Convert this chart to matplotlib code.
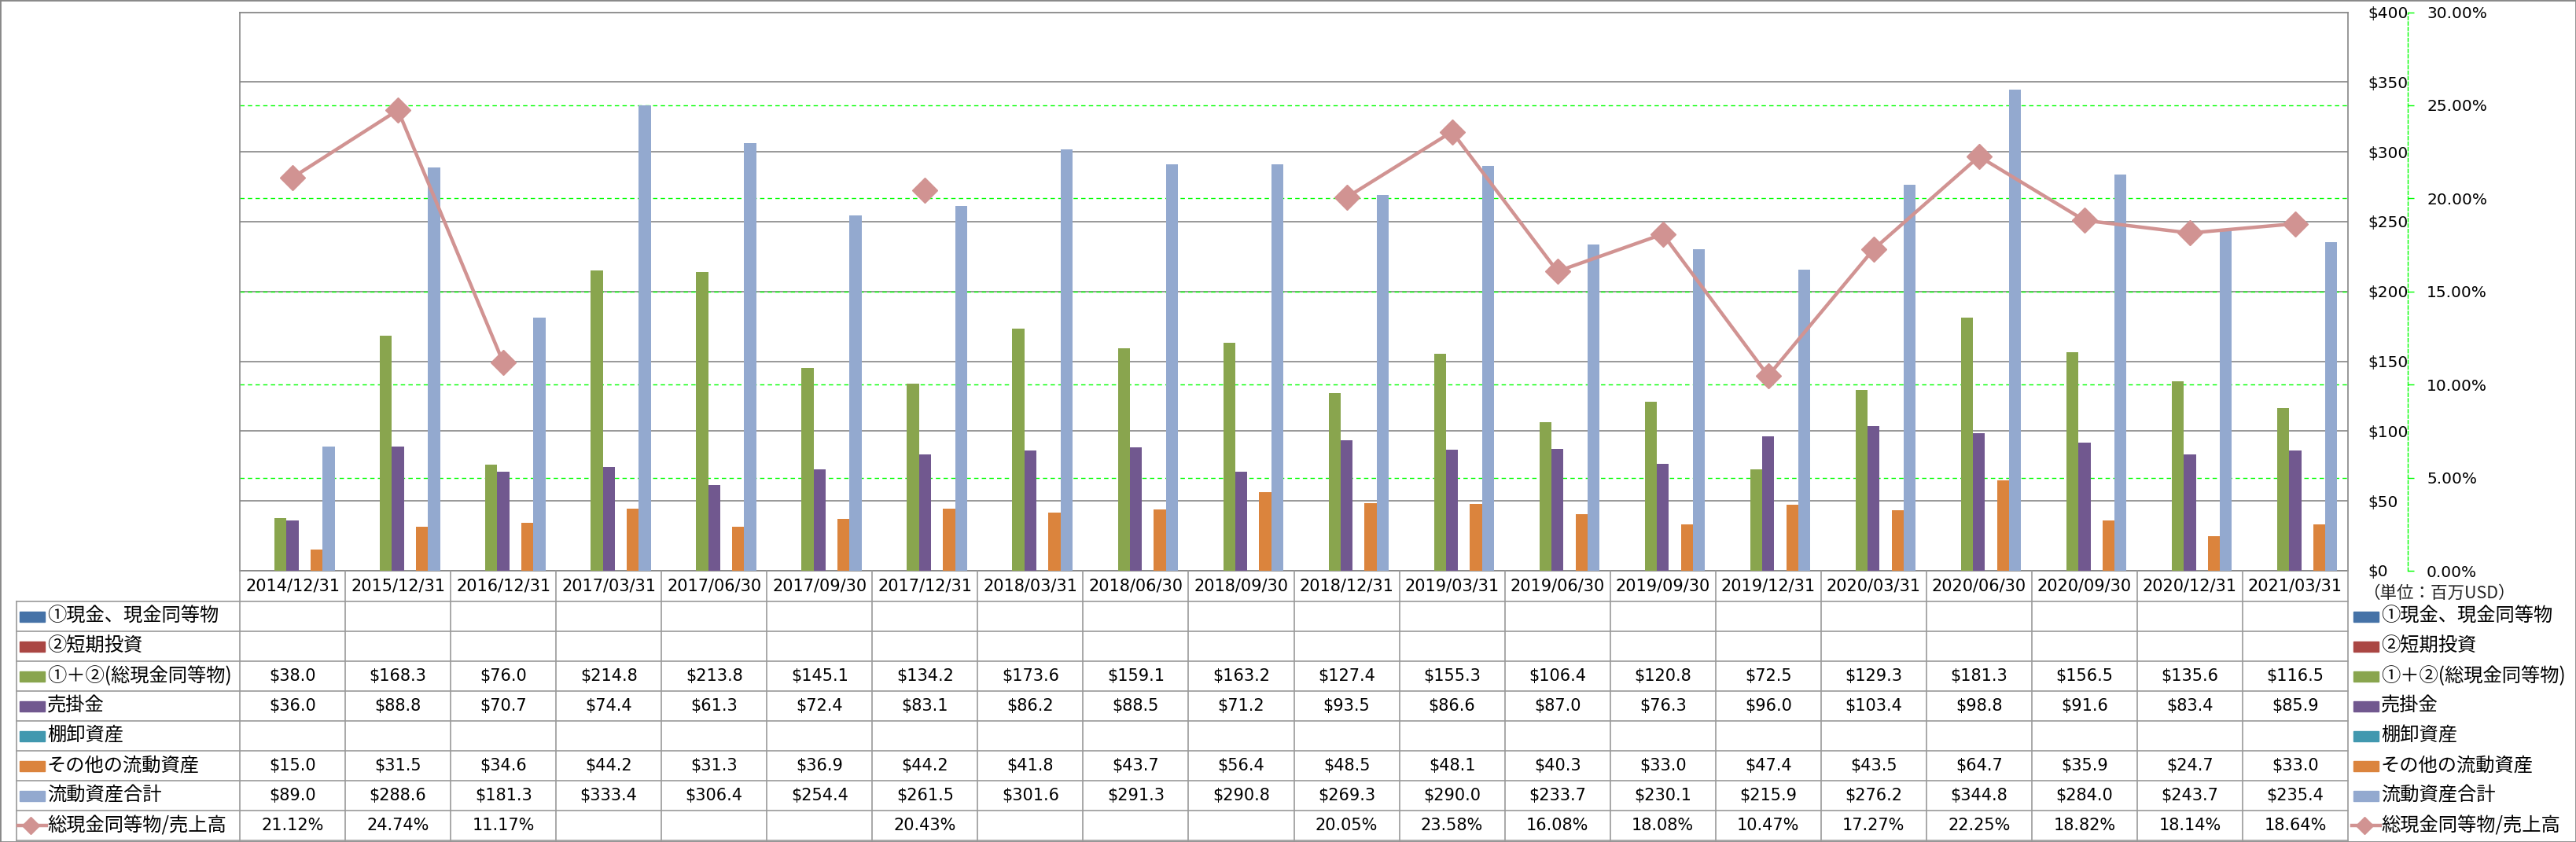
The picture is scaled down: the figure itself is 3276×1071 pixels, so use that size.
import matplotlib
matplotlib.use('Agg')
import matplotlib.pyplot as plt
import matplotlib.transforms as mtransforms
from matplotlib.lines import Line2D
from matplotlib.patches import Rectangle
import numpy as np

dates = ['2014/12/31', '2015/12/31', '2016/12/31', '2017/03/31', '2017/06/30',
         '2017/09/30', '2017/12/31', '2018/03/31', '2018/06/30', '2018/09/30',
         '2018/12/31', '2019/03/31', '2019/06/30', '2019/09/30', '2019/12/31',
         '2020/03/31', '2020/06/30', '2020/09/30', '2020/12/31', '2021/03/31']

cash = []          # ①現金、現金同等物 (no data)
short_inv = []     # ②短期投資 (no data)
total_cash = [38.0, 168.3, 76.0, 214.8, 213.8, 145.1, 134.2, 173.6, 159.1, 163.2,
              127.4, 155.3, 106.4, 120.8, 72.5, 129.3, 181.3, 156.5, 135.6, 116.5]
receivables = [36.0, 88.8, 70.7, 74.4, 61.3, 72.4, 83.1, 86.2, 88.5, 71.2,
               93.5, 86.6, 87.0, 76.3, 96.0, 103.4, 98.8, 91.6, 83.4, 85.9]
inventory = []     # 棚卸資産 (no data)
other_ca = [15.0, 31.5, 34.6, 44.2, 31.3, 36.9, 44.2, 41.8, 43.7, 56.4,
            48.5, 48.1, 40.3, 33.0, 47.4, 43.5, 64.7, 35.9, 24.7, 33.0]
total_ca = [89.0, 288.6, 181.3, 333.4, 306.4, 254.4, 261.5, 301.6, 291.3, 290.8,
            269.3, 290.0, 233.7, 230.1, 215.9, 276.2, 344.8, 284.0, 243.7, 235.4]
ratio = [21.12, 24.74, 11.17, None, None, None, 20.43, None, None, None,
         20.05, 23.58, 16.08, 18.08, 10.47, 17.27, 22.25, 18.82, 18.14, 18.64]

bar_names = ['①現金、現金同等物', '②短期投資', '①＋②(総現金同等物)', '売掛金',
             '棚卸資産', 'その他の流動資産', '流動資産合計']
bar_series = [cash, short_inv, total_cash, receivables, inventory, other_ca, total_ca]
bar_colors = ['#4572A7', '#AA4643', '#89A54E', '#71588F', '#4198AF', '#DB843D', '#93A9CF']
line_name = '総現金同等物/売上高'
line_color = '#D19392'

W, H = 3276, 1071
JP = ['Noto Sans CJK JP', 'DejaVu Sans']

fig = plt.figure(figsize=(W / 100, H / 100), dpi=100)


def fx(px):
    return px / W


def fy(py):
    return 1 - py / H


ax_l, ax_r, ax_t, ax_b = 305, 2986, 15.5, 726
ax = fig.add_axes([fx(ax_l), fy(ax_b), fx(ax_r - ax_l), (ax_b - ax_t) / H])
ax2 = ax.twinx()

x = np.arange(len(dates))
w = 0.114
for i, vals in enumerate(bar_series):
    if vals:
        ax.bar(x + (i - 3) * w, vals, w, color=bar_colors[i], zorder=3)

ax.set_xlim(-0.5, len(dates) - 0.5)
ax.set_ylim(0, 400)
ax.set_yticks(range(0, 401, 50))
ax.set_yticklabels([f'${v}' for v in range(0, 401, 50)])
ax.yaxis.tick_right()
ax.tick_params(axis='y', length=0, pad=18, labelsize=14.5)
ax.set_xticks([])
ax.grid(axis='y', color='#868686', lw=1.2, zorder=1)
ax.set_axisbelow(True)
for s in ax.spines.values():
    s.set_color('#868686')
    s.set_linewidth(1.2)

# secondary axis
r = np.array([np.nan if v is None else v for v in ratio], dtype=float)
ax2.plot(x, r, color=line_color, lw=3.2, marker='D', ms=16, mec=line_color,
         mfc=line_color, zorder=5)
ax2.set_ylim(0, 30)
pct_ticks = list(range(0, 31, 5))
ax2.set_yticks(pct_ticks)
ax2.set_yticklabels([f'{v:.2f}%' for v in pct_ticks])
ax2.tick_params(axis='y', color='#00FF00', length=6, width=1, pad=11, labelsize=14.5)
for k in ['top', 'left', 'bottom']:
    ax2.spines[k].set_visible(False)
ax2.spines['right'].set_position(('outward', 55))
ax2.spines['right'].set_color('#00FF00')
ax2.spines['right'].set_linestyle((0, (3, 2)))
ax2.spines['right'].set_linewidth(1)

# green dashed gridlines of the percentage axis, behind the bars
gtrans = mtransforms.blended_transform_factory(ax.transAxes, ax2.transData)
for p in pct_ticks[1:-1]:
    ax.plot([0, 1], [p, p], transform=gtrans, color='#00FF00', lw=1,
            ls=(0, (4, 3)), zorder=2)

# data table
hdr_top, hdr_bot = 726, 765
row_h = 38
n_rows = 8
row_tops = [hdr_bot + k * row_h for k in range(n_rows + 1)]
grid_c = '#9A9A9A'
tab_left = 21
colT = mtransforms.blended_transform_factory(ax.transData, fig.transFigure)

for yb in row_tops:
    fig.add_artist(Line2D([fx(tab_left), fx(ax_r)], [fy(yb), fy(yb)],
                          transform=fig.transFigure, color=grid_c, lw=1.2))
for xb in np.arange(-0.5, len(dates), 1.0):
    fig.add_artist(Line2D([xb, xb], [fy(hdr_top), fy(row_tops[-1])],
                          transform=colT, color=grid_c, lw=1.2))
fig.add_artist(Line2D([fx(tab_left), fx(tab_left)], [fy(hdr_bot), fy(row_tops[-1])],
                      transform=fig.transFigure, color=grid_c, lw=1.2))

for i, d in enumerate(dates):
    fig.text(i, fy((hdr_top + hdr_bot) / 2), d, transform=colT, ha='center',
             va='center', fontsize=15, family='DejaVu Sans')

row_vals = bar_series + [ratio]
for k, vals in enumerate(row_vals):
    yc = fy(row_tops[k] + row_h / 2)
    if not vals:
        continue
    for i, v in enumerate(vals):
        if v is None:
            continue
        s = f'{v:.2f}%' if k == 7 else f'${v:.1f}'
        fig.text(i, yc, s, transform=colT, ha='center', va='center',
                 fontsize=15, family='DejaVu Sans')


def legend_key(x0, k):
    yc = row_tops[k] + row_h / 2
    if k < 7:
        fig.add_artist(Rectangle((fx(x0), fy(yc + 6.5)), fx(32), 13 / H,
                                 transform=fig.transFigure, color=bar_colors[k]))
        label = bar_names[k]
    else:
        fig.add_artist(Line2D([fx(x0 - 2), fx(x0 + 34)], [fy(yc), fy(yc)],
                              transform=fig.transFigure, color=line_color, lw=3.2))
        fig.add_artist(Line2D([fx(x0 + 14)], [fy(yc)], transform=fig.transFigure,
                              marker='D', ms=11, color=line_color))
        label = line_name
    fig.text(fx(x0 + 35), fy(yc), label, ha='left', va='center', fontsize=17.5,
             family=JP)


for k in range(8):
    legend_key(25, k)
    legend_key(2993, k)

fig.text(fx(3005), fy(755), '（単位：百万USD）', ha='left', va='center',
         fontsize=15.5, family=JP, color='#222222')

fig.add_artist(Rectangle((0, 0), 1, 1, transform=fig.transFigure, fill=False,
                         edgecolor='#888888', lw=2))

fig.savefig('out.png', dpi=100)
